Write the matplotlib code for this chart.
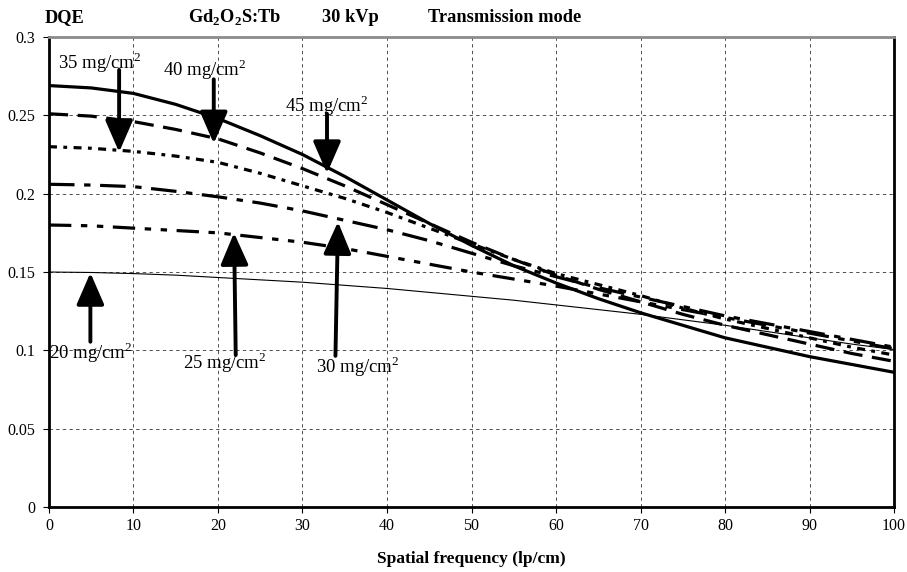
import matplotlib.pyplot as plt
import matplotlib as mpl

mpl.rcParams['font.family'] = 'Liberation Serif'
mpl.rcParams['mathtext.fontset'] = 'custom'
mpl.rcParams['mathtext.rm'] = 'Liberation Serif'
mpl.rcParams['mathtext.bf'] = 'Liberation Serif:bold'

freq = [0, 5, 10, 15, 20, 25, 30, 35, 40, 45, 50, 55, 60, 65, 70, 75, 80, 85, 90, 95, 100]
dqe_20 = [0.150, 0.1497, 0.149, 0.148, 0.1465, 0.145, 0.1435, 0.1415, 0.1395, 0.137, 0.1345,
          0.132, 0.129, 0.126, 0.123, 0.1195, 0.116, 0.112, 0.108, 0.104, 0.1005]
dqe_25 = [0.180, 0.1795, 0.178, 0.1765, 0.175, 0.172, 0.169, 0.165, 0.160, 0.155, 0.150,
          0.1455, 0.141, 0.136, 0.131, 0.126, 0.121, 0.116, 0.111, 0.106, 0.101]
dqe_30 = [0.206, 0.2055, 0.2045, 0.2015, 0.198, 0.194, 0.189, 0.183, 0.177, 0.170, 0.162,
          0.154, 0.147, 0.140, 0.134, 0.128, 0.122, 0.117, 0.112, 0.107, 0.102]
dqe_35 = [0.230, 0.229, 0.227, 0.224, 0.220, 0.213, 0.205, 0.197, 0.188, 0.178, 0.168,
          0.158, 0.149, 0.142, 0.135, 0.127, 0.120, 0.114, 0.108, 0.102, 0.097]
dqe_40 = [0.251, 0.2495, 0.246, 0.241, 0.235, 0.226, 0.216, 0.205, 0.193, 0.181, 0.169,
          0.158, 0.148, 0.139, 0.131, 0.123, 0.116, 0.110, 0.104, 0.098, 0.093]
dqe_45 = [0.269, 0.2675, 0.264, 0.257, 0.248, 0.237, 0.225, 0.211, 0.196, 0.181, 0.167,
          0.154, 0.143, 0.133, 0.124, 0.116, 0.108, 0.102, 0.096, 0.091, 0.086]

x_ticks = [0, 10, 20, 30, 40, 50, 60, 70, 80, 90, 100]
y_ticks = [0, 0.05, 0.1, 0.15, 0.2, 0.25, 0.3]
y_labels = ['0', '0.05', '0.1', '0.15', '0.2', '0.25', '0.3']

# label text position, arrow tail, arrow tip
labels = ['20 mg/cm$^2$', '25 mg/cm$^2$', '30 mg/cm$^2$', '35 mg/cm$^2$', '40 mg/cm$^2$', '45 mg/cm$^2$']
label_pos = [(0.0, 0.0985), (15.9, 0.0925), (31.6, 0.0895), (1.1, 0.2835), (13.5, 0.2795), (27.9, 0.2565)]
arrow_tail = [(4.9, 0.1055), (22.1, 0.097), (33.9, 0.0965), (8.3, 0.279), (19.5, 0.273), (32.9, 0.251)]
arrow_tip = [(4.9, 0.1495), (21.9, 0.175), (34.2, 0.182), (8.3, 0.2265), (19.5, 0.232), (32.9, 0.213)]

fig = plt.figure(figsize=(9.07, 5.72), dpi=100)
ax = fig.add_axes([0.054, 0.1136, 0.9317, 0.8217])

ax.plot(freq, dqe_20, color='black', lw=0.8)
ax.plot(freq, dqe_25, color='black', lw=2.3, dashes=(7, 3, 2, 3, 2, 3))
ax.plot(freq, dqe_30, color='black', lw=2.3, dashes=(8, 3, 2, 3))
ax.plot(freq, dqe_35, color='black', lw=2.3, dashes=(2.5, 2, 1.2, 2))
ax.plot(freq, dqe_40, color='black', lw=2.3, dashes=(6, 3))
ax.plot(freq, dqe_45, color='black', lw=2.3)

for lab, pos, tail, tip in zip(labels, label_pos, arrow_tail, arrow_tip):
    ax.text(pos[0], pos[1], lab, fontsize=13.5, va='center', ha='left', zorder=5)
    ax.annotate('', xy=tip, xytext=tail,
                arrowprops=dict(arrowstyle='-|>,head_length=1.15,head_width=0.5',
                                lw=2.8, color='black', mutation_scale=17,
                                shrinkA=0, shrinkB=0), zorder=6)

ax.set_xlim(0, 100)
ax.set_ylim(0, 0.3)
ax.set_xticks(x_ticks)
ax.set_yticks(y_ticks)
ax.set_yticklabels(y_labels)
ax.tick_params(labelsize=11.5, direction='out', length=4, width=0.8, pad=6)
ax.tick_params(axis='x', pad=4)
ax.grid(True, color='black', ls=(0, (4, 4)), lw=0.6, alpha=0.8)

for side in ['left', 'bottom', 'right']:
    ax.spines[side].set_linewidth(2.0)
ax.spines['top'].set_linewidth(2.0)
ax.spines['top'].set_color('0.55')

ax.set_xlabel('Spatial frequency (lp/cm)', fontsize=12.5, fontweight='bold', labelpad=12)

fig.text(0.0496, 0.970, 'DQE', fontsize=13.2, fontweight='bold', va='center')
fig.text(0.2073, 0.970, r'Gd$_\mathbf{2}$O$_\mathbf{2}$S:Tb', fontsize=13.2, fontweight='bold', va='center')
fig.text(0.355, 0.970, '30 kVp', fontsize=13.2, fontweight='bold', va='center')
fig.text(0.4719, 0.970, 'Transmission mode', fontsize=13.2, fontweight='bold', va='center')

fig.savefig('out.png', dpi=100)
